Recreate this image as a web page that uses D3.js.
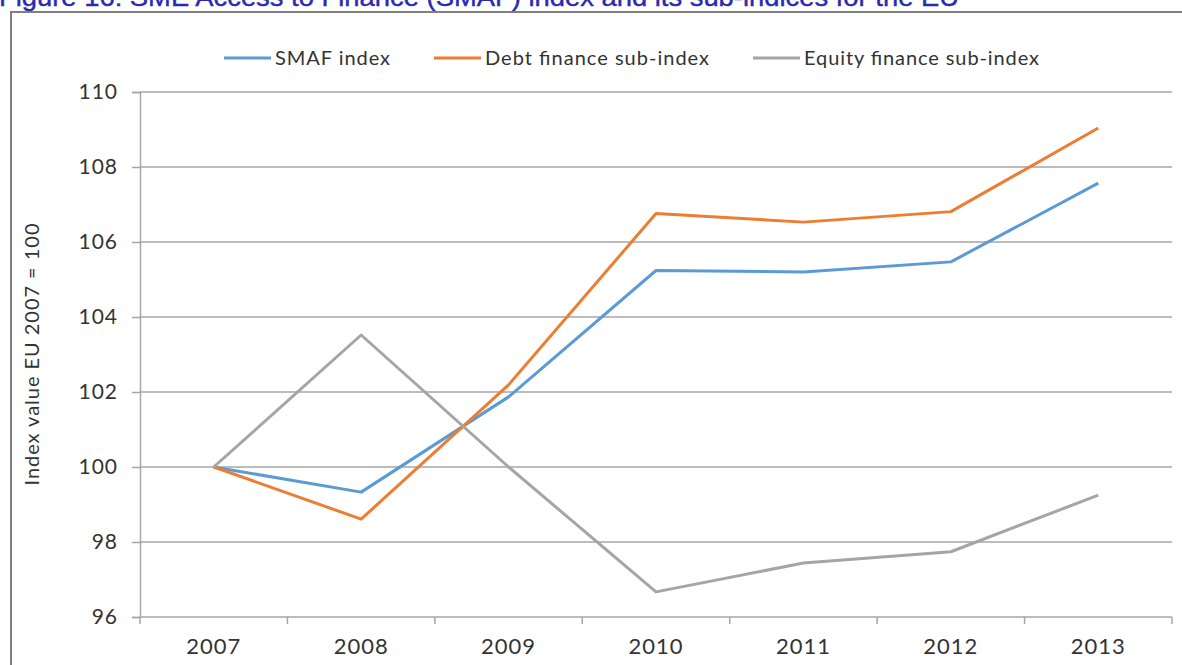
<!DOCTYPE html>
<html>
<head>
<meta charset="utf-8">
<script src="https://cdn.jsdelivr.net/npm/d3@7"></script>
<style>
  body { margin: 0; background: #fff; }
  svg { display: block; }
</style>
</head>
<body>
<div id="wrapper"></div>
<script>
const years = ["2007", "2008", "2009", "2010", "2011", "2012", "2013"];
const smafIndex = [100, 99.33, 101.87, 105.24, 105.2, 105.47, 107.57];
const debtIndex = [100, 98.61, 102.19, 106.76, 106.53, 106.81, 109.04];
const equityIndex = [100, 103.52, 100.0, 96.67, 97.44, 97.74, 99.25];
const yTicks = [96, 98, 100, 102, 104, 106, 108, 110];
const seriesNames = ["SMAF index", "Debt finance sub-index", "Equity finance sub-index"];
const seriesColors = ["#5B9BD5", "#ED7D31", "#A5A5A5"];

let dimensions = {
    width: 1182,
    height: 665,
    margin: { top: 92, left: 140, bottom: 48, right: 10 }
}
dimensions.boundedWidth = dimensions.width - dimensions.margin.left - dimensions.margin.right;
dimensions.boundedHeight = dimensions.height - dimensions.margin.top - dimensions.margin.bottom;

const fontFamily = "Lato, 'Open Sans', sans-serif";

let wrapper = d3.select("#wrapper").append("svg")
    .attr("width", dimensions.width)
    .attr("height", dimensions.height);

// title, cut off by the top edge as in the source, and the frame
wrapper.append("text")
    .attr("x", -1)
    .attr("y", 6)
    .attr("textLength", 960)
    .attr("lengthAdjust", "spacingAndGlyphs")
    .style("font-family", "'Liberation Sans', Arial, sans-serif")
    .style("font-size", "26px")
    .attr("fill", "#2a2ab0")
    .attr("stroke", "#2a2ab0")
    .attr("stroke-width", 0.4)
    .text("Figure 16: SME Access to Finance (SMAF) index and its sub-indices for the EU");

wrapper.append("rect")
    .attr("x", 11)
    .attr("y", 12)
    .attr("width", 1200)
    .attr("height", 700)
    .attr("fill", "none")
    .attr("stroke", "#7f7f7f")
    .attr("stroke-width", 2);

let container = wrapper.append("g")
    .attr("transform", `translate(${dimensions.margin.left}, ${dimensions.margin.top})`);

const xScaler = d3.scaleBand()
    .domain(years)
    .range([0, dimensions.boundedWidth]);
const yScaler = d3.scaleLinear()
    .domain([96, 110])
    .range([dimensions.boundedHeight, 0]);

// gridlines
container.append("g")
    .selectAll("line")
    .data(yTicks.slice(1))
    .join("line")
    .attr("x1", 0)
    .attr("x2", dimensions.boundedWidth)
    .attr("y1", d => yScaler(d))
    .attr("y2", d => yScaler(d))
    .attr("stroke", "#a6a6a6")
    .attr("stroke-width", 1.5);

// y axis
const yAxis = container.append("g")
    .call(d3.axisLeft(yScaler).tickValues(yTicks).tickSize(8).tickPadding(14));
yAxis.select(".domain").attr("stroke", "#a6a6a6").attr("stroke-width", 1.5);
yAxis.selectAll(".tick line").attr("stroke", "#a6a6a6").attr("stroke-width", 1.5);
yAxis.selectAll(".tick text")
    .style("font-family", fontFamily)
    .style("font-size", "21px")
    .style("letter-spacing", "1px")
    .attr("fill", "#333");

// x axis, ticks at category boundaries
const xAxis = container.append("g")
    .attr("transform", `translate(0, ${dimensions.boundedHeight})`)
    .call(d3.axisBottom(xScaler).tickSize(0).tickPadding(21));
xAxis.select(".domain").remove();
xAxis.selectAll(".tick text")
    .style("font-family", fontFamily)
    .style("font-size", "22px")
    .style("letter-spacing", "1px")
    .attr("fill", "#333");
xAxis.append("line")
    .attr("x1", 0)
    .attr("x2", dimensions.boundedWidth)
    .attr("stroke", "#a6a6a6")
    .attr("stroke-width", 1.5);
xAxis.selectAll(".bound")
    .data(years.map(y => xScaler(y)).concat([xScaler.range()[1]]))
    .join("line")
    .attr("class", "bound")
    .attr("x1", d => d)
    .attr("x2", d => d)
    .attr("y1", 0)
    .attr("y2", 7)
    .attr("stroke", "#a6a6a6")
    .attr("stroke-width", 1.5);

// y label
wrapper.append("text")
    .attr("transform", `translate(39, ${dimensions.margin.top + dimensions.boundedHeight / 2}) rotate(-90)`)
    .attr("text-anchor", "middle")
    .attr("textLength", 262)
    .attr("lengthAdjust", "spacing")
    .style("font-family", fontFamily)
    .style("font-size", "20px")
    .attr("fill", "#333")
    .text("Index value EU 2007 = 100");

// lines
const allSeries = [smafIndex, debtIndex, equityIndex];
const lineGen = d3.line()
    .x((d, i) => xScaler(years[i]) + xScaler.bandwidth() / 2)
    .y(d => yScaler(d));

container.selectAll(".series")
    .data(allSeries)
    .join("path")
    .attr("class", "series")
    .attr("d", d => lineGen(d))
    .attr("fill", "none")
    .attr("stroke", (d, i) => seriesColors[i])
    .attr("stroke-width", 3)
    .attr("stroke-linejoin", "round");

// legend
const legendX = [224, 434, 753];
const legendTextWidth = [115, 224, 235];
const legend = wrapper.append("g");
const items = legend.selectAll("g")
    .data(seriesNames)
    .join("g")
    .attr("transform", (d, i) => `translate(${legendX[i]}, 58)`);
items.append("line")
    .attr("x1", 0)
    .attr("x2", 47)
    .attr("stroke", (d, i) => seriesColors[i])
    .attr("stroke-width", 3);
items.append("text")
    .attr("x", 51)
    .attr("dy", "0.35em")
    .attr("textLength", (d, i) => legendTextWidth[i])
    .attr("lengthAdjust", "spacing")
    .style("font-family", fontFamily)
    .style("font-size", "20px")
    .attr("fill", "#333")
    .text(d => d);
</script>
</body>
</html>
